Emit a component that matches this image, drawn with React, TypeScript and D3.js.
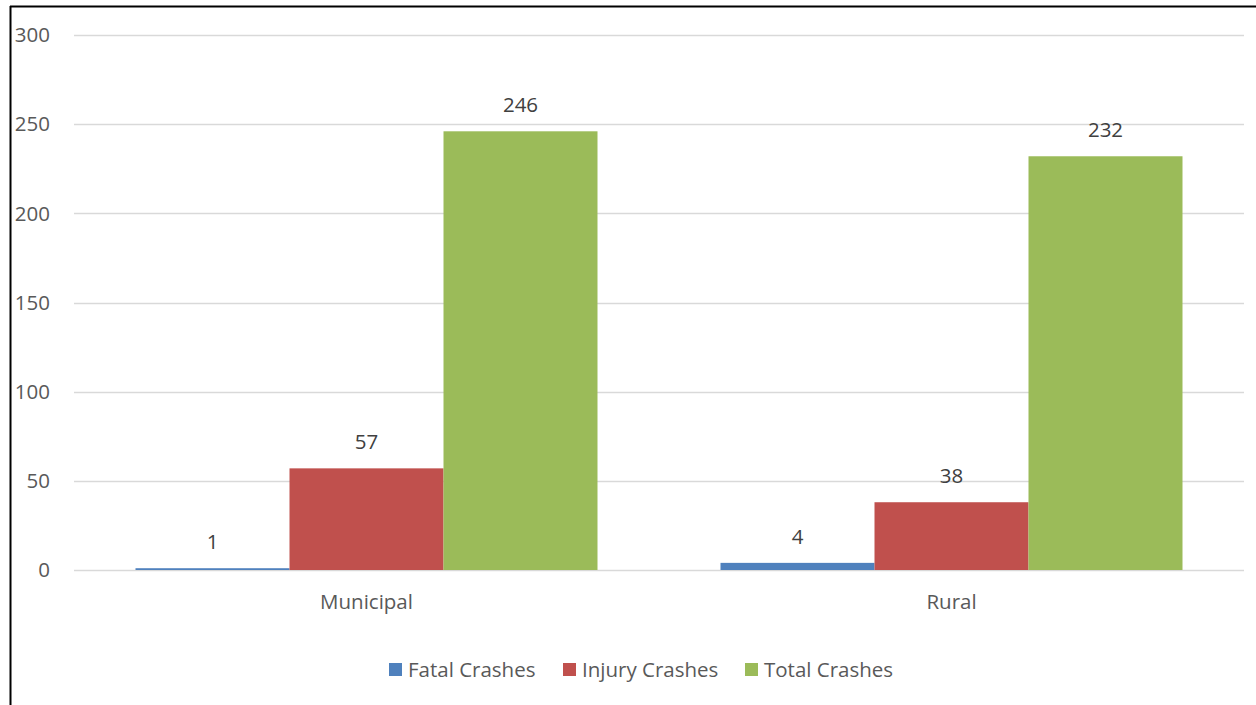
import React from "react";
import * as d3 from "d3";

const categories = ["Municipal", "Rural"];
const seriesNames = ["Fatal Crashes", "Injury Crashes", "Total Crashes"];
const fatal = [1, 4];
const injury = [57, 38];
const total = [246, 232];
const yTicks = [0, 50, 100, 150, 200, 250, 300];
const colors = ["#4F81BD", "#C0504D", "#9BBB59"];

const W = 1256, H = 705;
const FONT = "'Open Sans', sans-serif";
const FS = 20.5;

export default function App() {
  const series = [fatal, injury, total];
  const x0 = d3.scaleBand<string>().domain(categories).range([74, 1244]).paddingInner(0).paddingOuter(0);
  const groupW = 462;
  const x1 = d3.scaleBand<string>().domain(seriesNames).range([0, groupW]).padding(0);
  const y = d3.scaleLinear().domain([0, 300]).range([570, 35]);

  return (
    <div style={{ position: "absolute", left: 0, top: 0 }}>
      <svg width={W} height={H} style={{ display: "block", background: "#fff" }} fontFamily={FONT}>
        <line x1={10} x2={W} y1={6.5} y2={6.5} stroke="#000" strokeWidth={2} />
        <line x1={10.5} x2={10.5} y1={6} y2={H} stroke="#000" strokeWidth={2} />
        {yTicks.map((t) => (
          <g key={t}>
            <line x1={74} x2={1244} y1={Math.round(y(t)) + 0.5} y2={Math.round(y(t)) + 0.5} stroke="#D9D9D9" strokeWidth={1.5} />
            <text x={50} y={y(t)} dy="0.35em" textAnchor="end" fontSize={FS} fill="#595959">{t}</text>
          </g>
        ))}
        {categories.map((c, ci) => {
          const gx = (x0(c) as number) + (x0.bandwidth() - groupW) / 2;
          return (
            <g key={c}>
              {seriesNames.map((s, si) => {
                const v = series[si][ci];
                const bx = gx + (x1(s) as number);
                return (
                  <g key={s}>
                    <rect x={bx} y={y(v)} width={x1.bandwidth()} height={y(0) - y(v)} fill={colors[si]} />
                    <text x={bx + x1.bandwidth() / 2} y={y(v) - 19} textAnchor="middle" fontSize={FS} fill="#404040">{v}</text>
                  </g>
                );
              })}
              <text x={(x0(c) as number) + x0.bandwidth() / 2} y={609} textAnchor="middle" fontSize={FS} fill="#595959">{c}</text>
            </g>
          );
        })}
        {(() => {
          const legendX = [389, 563, 745];
          return seriesNames.map((s, i) => (
            <g key={s}>
              <rect x={legendX[i]} y={663} width={13} height={13} fill={colors[i]} />
              <text x={legendX[i] + 19} y={677} fontSize={FS} fill="#595959">{s}</text>
            </g>
          ));
        })()}
      </svg>
    </div>
  );
}
